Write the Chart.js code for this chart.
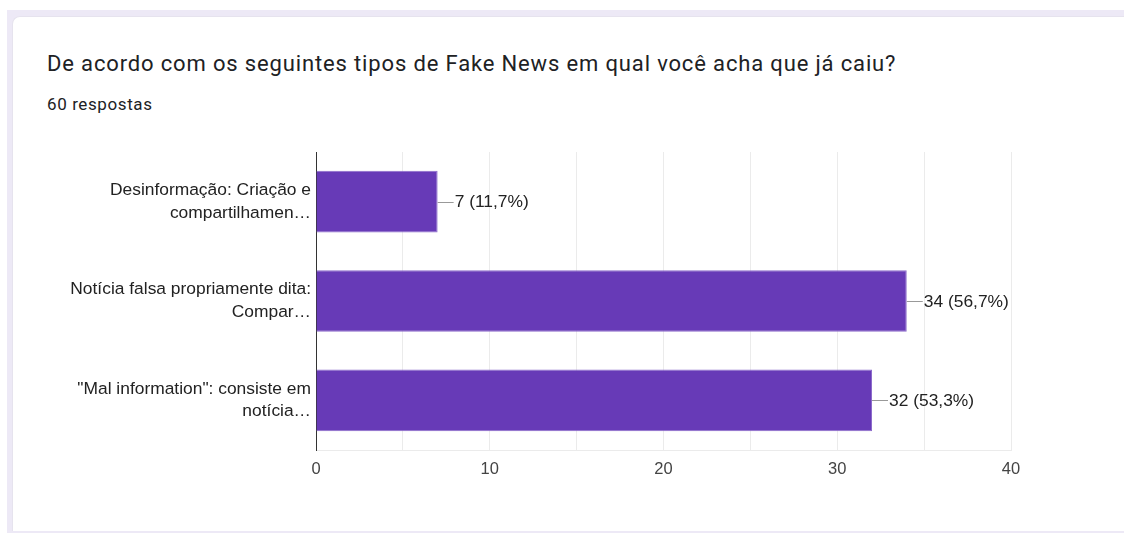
<!DOCTYPE html>
<html>
<head>
<meta charset="utf-8">
<script src="https://cdn.jsdelivr.net/npm/chart.js@4.4.0/dist/chart.umd.min.js"></script>
<style>
  html, body { margin: 0; padding: 0; background: #fff; width: 1124px; height: 533px; overflow: hidden; }
  #backdrop { position: absolute; left: 7px; top: 10px; right: 0; bottom: 0; background: #ede9f6; }
  #card { position: absolute; left: 12px; top: 16px; right: 0; bottom: 2px; background: #fff;
          border-top-left-radius: 8px; border-left: 1px solid #e6e3ee; border-top: 1px solid #e6e3ee; }
  #title { position: absolute; left: 47px; top: 51px; font-family: Roboto, sans-serif; font-size: 22px;
           letter-spacing: 0.85px; color: #202124; white-space: nowrap; }
  #sub { position: absolute; left: 47px; top: 94px; font-family: Roboto, sans-serif; font-size: 17px;
         letter-spacing: 0.6px; color: #202124; }
  #wrap { position: absolute; left: 0; top: 0; width: 1124px; height: 533px; }
</style>
</head>
<body>
<div id="backdrop"></div>
<div id="card"></div>
<div id="title">De acordo com os seguintes tipos de Fake News em qual você acha que já caiu?</div>
<div id="sub">60 respostas</div>
<div id="wrap"><canvas id="chart"></canvas></div>
<script>
// answer options (as truncated in the form summary)
const categories = [
    ['Desinformação: Criação e', 'compartilhamen…'],
    ['Notícia falsa propriamente dita:', 'Compar…'],
    ['"Mal information": consiste em', 'notícia…']
];
const counts = [7, 34, 32];
const totalResponses = 60;
const barColor = '#673ab7';

const labelFont = '"Liberation Sans", Arial, sans-serif';

// "7 (11,7%)" labels with a short leader line
const valueLabels = {
    id: 'valueLabels',
    afterDatasetsDraw(chart) {
        const ctx = chart.ctx;
        const meta = chart.getDatasetMeta(0);
        ctx.save();
        ctx.font = '17.4px ' + labelFont;
        ctx.textBaseline = 'middle';
        meta.data.forEach((bar, i) => {
            const v = counts[i];
            const pct = (v / totalResponses * 100).toFixed(1).replace('.', ',');
            ctx.strokeStyle = '#999';
            ctx.lineWidth = 1;
            ctx.beginPath();
            ctx.moveTo(bar.x, Math.round(bar.y) + 0.5);
            ctx.lineTo(bar.x + 16, Math.round(bar.y) + 0.5);
            ctx.stroke();
            ctx.fillStyle = '#222';
            ctx.fillText(v + ' (' + pct + '%)', bar.x + 17, bar.y + 1);
        });
        ctx.restore();
    }
};

new Chart(document.getElementById('chart'), {
    type: 'bar',
    data: {
        labels: categories,
        datasets: [{
            data: counts,
            backgroundColor: barColor,
            borderColor: '#8c6bcb',
            borderWidth: 1,
            barPercentage: 0.62,
            categoryPercentage: 1.0
        }]
    },
    options: {
        indexAxis: 'y',
        responsive: true,
        maintainAspectRatio: false,
        animation: false,
        layout: { padding: { top: 152, right: 113, bottom: 53, left: 0 } },
        scales: {
            x: {
                min: 0, max: 40,
                ticks: {
                    stepSize: 5,
                    padding: 10,
                    color: '#444',
                    font: { family: labelFont, size: 16.5 },
                    callback: v => (v % 10 === 0 ? v : '')
                },
                grid: { color: '#ebebeb', drawTicks: false },
                border: { color: '#ebebeb' },
                afterFit: s => { s.height = 30; }
            },
            y: {
                ticks: {
                    padding: 5,
                    color: '#222',
                    font: { family: labelFont, size: 17.4, lineHeight: 1.3 }
                },
                grid: { display: false, drawTicks: false },
                border: { color: '#333', width: 1 },
                afterFit: s => { s.width = 316; }
            }
        },
        plugins: { legend: { display: false }, tooltip: { enabled: false } }
    },
    plugins: [valueLabels]
});
</script>
</body>
</html>
